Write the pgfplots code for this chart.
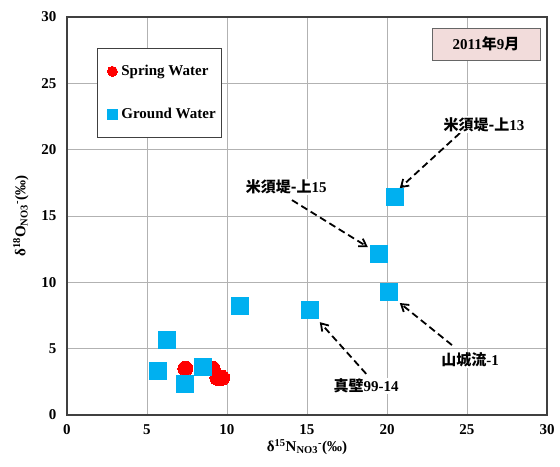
\documentclass[border=0pt]{standalone}
\usepackage{pgfplots}
\pgfplotsset{compat=1.18}
\usepackage{fontspec}
\setmainfont{Liberation Serif}
\newfontfamily\cjk{Noto Sans CJK JP}
\usetikzlibrary{arrows.meta}
\definecolor{springred}{RGB}{255,0,0}
\definecolor{gwblue}{RGB}{0,176,240}
\definecolor{titlepink}{RGB}{242,220,219}
\tikzset{annarrow/.style={dash pattern=on 7pt off 4pt, line width=1.8pt, -{Straight Barb[length=7pt,width=9pt]}},
  annlabel/.style={font=\bfseries\fontsize{15}{17}\selectfont, fill=white, inner sep=1pt}}
\begin{document}
\begin{tikzpicture}[x=1pt,y=1pt]
\begin{axis}[
  scale only axis,
  width=480pt, height=398pt,
  xmin=0, xmax=30, ymin=0, ymax=30,
  xtick={0,5,...,30}, ytick={0,5,...,30},
  grid=major,
  major grid style={gray!60, line width=0.9pt},
  axis line style={black!75, line width=1.2pt},
  tick style={draw=none},
  xticklabel={\pgfmathprintnumber{\tick}},
  yticklabel={\pgfmathprintnumber{\tick}},
  /pgf/number format/assume math mode=true,
  ticklabel style={font=\bfseries\fontsize{15}{17}\selectfont},
  xticklabel style={yshift=-6pt},
  yticklabel style={xshift=-7pt},
  xlabel={δ\textsuperscript{15}N\textsubscript{NO3}\textsuperscript{-}(‰)},
  ylabel={δ\textsuperscript{18}O\textsubscript{NO3}\textsuperscript{-}(‰)},
  xlabel style={font=\bfseries\fontsize{15}{17}\selectfont, yshift=2pt},
  ylabel style={font=\bfseries\fontsize{15}{17}\selectfont, yshift=6pt},
  legend style={at={(0.0625,0.922)}, anchor=north west, draw=black!75, line width=0.8pt,
    font=\bfseries\fontsize{15}{17}\selectfont, row sep=27pt, inner xsep=4pt, inner ysep=15pt,
    cells={anchor=west}},
  legend image post style={line width=0pt, mark size=5pt},
  legend image code/.code={\path (0pt,0pt) (18pt,0pt); \draw[#1] plot coordinates {(11pt,0pt)};},
  clip=false,
]
\addplot[only marks, mark=*, mark size=7.5pt, draw=springred, fill=springred, line width=0pt]
  coordinates {(7.4,3.5) (9.1,3.5) (9.4,2.8) (9.7,2.8)};
\addlegendentry{Spring Water}
\addplot[only marks, mark=square*, mark size=8.5pt, draw=gwblue, fill=gwblue, line width=0pt]
  coordinates {(20.5,16.4) (19.5,12.1) (20.1,9.3) (15.2,7.9) (10.8,8.2) (6.25,5.65) (5.7,3.3) (7.4,2.3) (8.5,3.6)};
\addlegendentry{Ground Water}

\draw[annarrow] (axis cs:24.56,21.25) -- (axis cs:20.8,17.1);
\draw[annarrow] (axis cs:14.06,16.2) -- (axis cs:18.8,12.66);
\draw[annarrow] (axis cs:24.06,5.27) -- (axis cs:20.8,8.44);
\draw[annarrow] (axis cs:18.7,3.1) -- (axis cs:15.8,7.0);

\node[annlabel] at (axis cs:26.06,21.9) {{\cjk 米須堤-上}13};
\node[annlabel] at (axis cs:13.7,17.2) {{\cjk 米須堤-上}15};
\node[annlabel] at (axis cs:25.2,4.15) {{\cjk 山城流}-1};
\node[annlabel] at (axis cs:18.7,2.2) {{\cjk 真壁}99-14};

\node[draw=black!60, line width=1pt, fill=titlepink, minimum width=108pt, minimum height=32pt,
  font=\bfseries\fontsize{15}{17}\selectfont] at (rel axis cs:0.873,0.932) {2011{\cjk 年}9{\cjk 月}};
\end{axis}
\pgfresetboundingbox
\path[use as bounding box] ([shift={(-67pt,-52pt)}]current axis.south west) rectangle ([shift={(13pt,17pt)}]current axis.north east);
\end{tikzpicture}
\end{document}
